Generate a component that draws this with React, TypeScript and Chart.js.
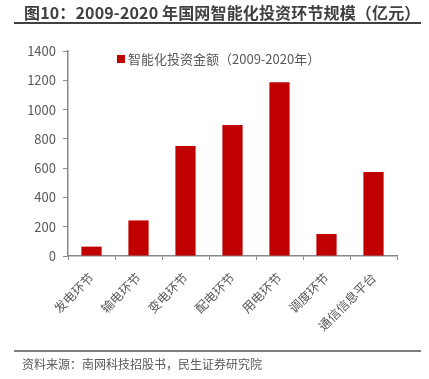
import React, { useEffect, useRef } from 'react';
import { Chart, registerables } from 'chart.js';

Chart.register(...registerables);

const titleText = '图10：2009-2020 年国网智能化投资环节规模（亿元）';
const sourceText = '资料来源：南网科技招股书，民生证券研究院';
const seriesLabel = '智能化投资金额（2009-2020年）';
const categories = ['发电环节', '输电环节', '变电环节', '配电环节', '用电环节', '调度环节', '通信信息平台'];
const investment = [64, 243, 751, 895, 1186, 150, 573];
const yMin = 0;
const yMax = 1400;
const yStep = 200;

const FONT = '"Noto Sans CJK SC", "Noto Sans", sans-serif';
const BAR = '#C00000';
const AXIS = '#898989';
const TEXT = '#595959';

const legendPlugin = {
  id: 'customLegend',
  afterDraw(chart: any) {
    const ctx = chart.ctx;
    const ds = chart.data.datasets[0];
    ctx.save();
    ctx.fillStyle = ds.backgroundColor;
    ctx.fillRect(117, 55, 8, 8);
    ctx.fillStyle = TEXT;
    ctx.font = `13px ${FONT}`;
    ctx.textBaseline = 'middle';
    ctx.textAlign = 'left';
    ctx.fillText(ds.label, 128, 59.5);
    ctx.restore();
  },
};

export default function App() {
  const ref = useRef<HTMLCanvasElement | null>(null);
  useEffect(() => {
    if (!ref.current) return;
    const chart = new Chart(ref.current, {
      type: 'bar',
      data: {
        labels: categories,
        datasets: [
          {
            label: seriesLabel,
            data: investment,
            backgroundColor: BAR,
            borderWidth: 0,
            categoryPercentage: 1,
            barPercentage: 0.43,
          },
        ],
      },
      plugins: [legendPlugin],
      options: {
        responsive: false,
        animation: false,
        devicePixelRatio: 1,
        layout: { padding: { top: 51, right: 32, bottom: 0, left: 0 } },
        plugins: {
          legend: { display: false },
          tooltip: { enabled: false },
          title: { display: false },
        },
        scales: {
          x: {
            afterFit: (s: any) => {
              s.height = 123;
            },
            grid: {
              offset: true,
              drawOnChartArea: false,
              drawTicks: true,
              tickLength: 4,
              tickColor: AXIS,
              color: AXIS,
            },
            border: { display: true, color: AXIS, width: 1.5 },
            ticks: {
              color: TEXT,
              font: { family: FONT, size: 12.5 },
              minRotation: 45,
              maxRotation: 45,
              padding: 10,
              autoSkip: false,
            },
          },
          y: {
            min: yMin,
            max: yMax,
            afterFit: (s: any) => {
              s.width = 68;
            },
            grid: {
              drawOnChartArea: false,
              drawTicks: true,
              tickLength: 5,
              tickColor: AXIS,
              color: AXIS,
            },
            border: { display: true, color: AXIS, width: 1.5 },
            ticks: {
              stepSize: yStep,
              color: TEXT,
              font: { family: FONT, size: 13 },
              padding: 7,
              callback: (v: any) => String(v),
            },
          },
        },
      },
    });
    return () => chart.destroy();
  }, []);

  return (
    <div style={{ position: 'fixed', left: 0, top: 0, width: 429, height: 379, background: '#fff', overflow: 'hidden' }}>
      <canvas ref={ref} width={429} height={379} style={{ position: 'absolute', left: 0, top: 0, width: 429, height: 379 }} />
      <div
        style={{
          position: 'absolute',
          left: 24,
          top: 2,
          fontFamily: FONT,
          fontWeight: 'bold',
          fontSize: 16,
          lineHeight: '20px',
          letterSpacing: '0.15px',
          color: '#404040',
          whiteSpace: 'nowrap',
        }}
      >
        {titleText}
      </div>
      <div style={{ position: 'absolute', left: 14, top: 22, width: 407, height: 2, background: '#404040' }} />
      <div style={{ position: 'absolute', left: 14, top: 350, width: 407, height: 1.5, background: '#7f7f7f' }} />
      <div
        style={{
          position: 'absolute',
          left: 22,
          top: 355,
          fontFamily: FONT,
          fontSize: 12,
          lineHeight: '18px',
          color: TEXT,
          whiteSpace: 'nowrap',
        }}
      >
        {sourceText}
      </div>
    </div>
  );
}
